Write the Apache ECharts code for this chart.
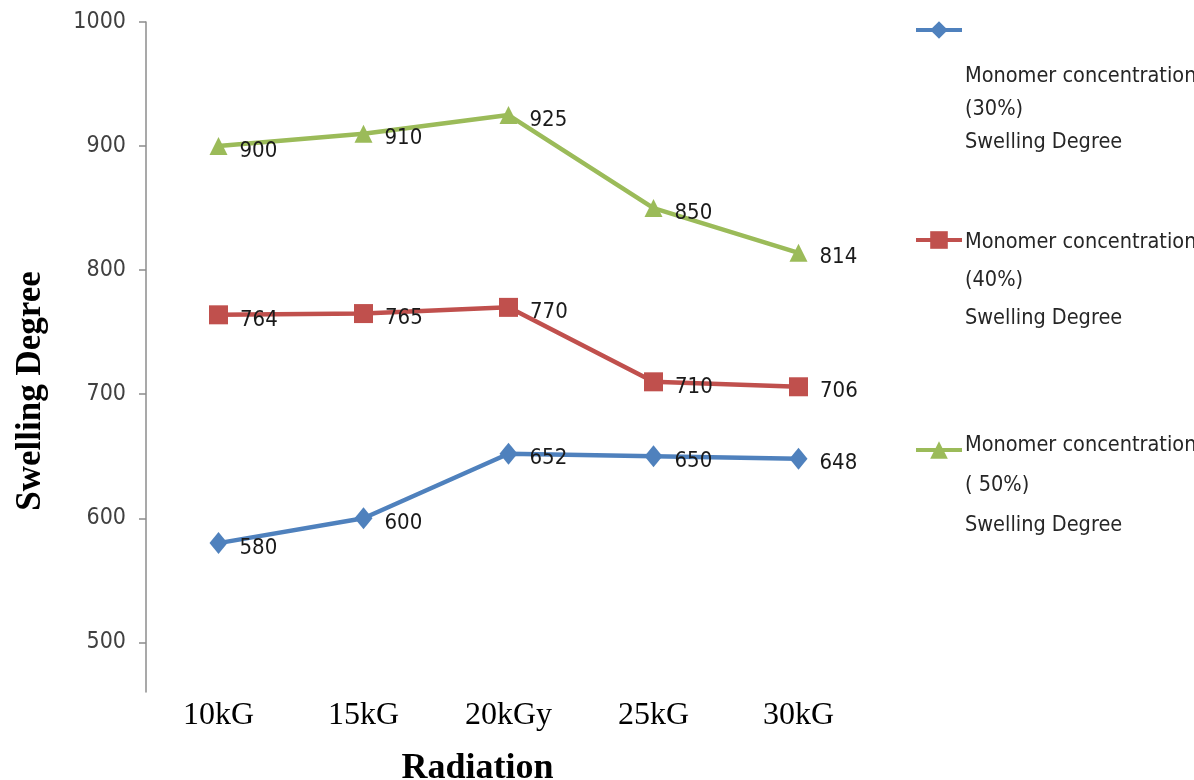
<!DOCTYPE html>
<html>
<head>
<meta charset="utf-8">
<script src="https://cdn.jsdelivr.net/npm/echarts@6/dist/echarts.min.js"></script>
<style>
  html, body { margin: 0; padding: 0; background: #ffffff; }
  #chart { width: 1194px; height: 780px; }
</style>
</head>
<body>
<div id="chart"></div>
<script>
// Radiation dose levels on the x axis
const categories = ['10kG', '15kG', '20kGy', '25kG', '30kG'];

// Swelling degree for each monomer concentration
const swelling30 = [580, 600, 652, 650, 648];
const swelling40 = [764, 765, 770, 710, 706];
const swelling50 = [900, 910, 925, 850, 814];

const seriesNames = [
  'Monomer concentration (30%) Swelling Degree',
  'Monomer concentration (40%) Swelling Degree',
  'Monomer concentration ( 50%) Swelling Degree'
];
const legendLines = [
  ['Monomer concentration', '(30%)', 'Swelling Degree'],
  ['Monomer concentration', '(40%)', 'Swelling Degree'],
  ['Monomer concentration', '( 50%)', 'Swelling Degree']
];

// Value-axis ticks
const yTicks = [500, 600, 700, 800, 900, 1000];

const colors = ['#4F81BD', '#C0504D', '#9BBB59'];
const sans = "'DejaVu Sans Condensed', 'DejaVu Sans', sans-serif";
const serif = "'Liberation Serif', 'Times New Roman', serif";

const chart = echarts.init(document.getElementById('chart'));

function makeSeries(i, data, symbol, size) {
  return {
    name: seriesNames[i],
    type: 'line',
    data: data,
    symbol: symbol,
    symbolSize: size,
    color: colors[i],
    lineStyle: { width: 4.5, color: colors[i] },
    itemStyle: { color: colors[i] },
    z: 3 + i,
    label: {
      show: true,
      position: 'right',
      distance: 12,
      offset: [0, 5],
      fontFamily: sans,
      fontSize: 22,
      color: '#1a1a1a'
    }
  };
}

// Icon-only legend entries
const iconTops = [14, 224, 434];
const iconLegends = seriesNames.map((n, i) => ({
  data: [n],
  left: 909,
  top: iconTops[i],
  itemWidth: 46,
  itemHeight: 22,
  lineStyle: { width: 4 },
  formatter: () => '',
  textStyle: { fontSize: 1 }
}));

// Text-only legend entries, three lines each
const lineHeights = [33, 38, 40];
const textTops = [55, 218, 420];
const textLegends = seriesNames.map((n, i) => ({
  data: [{ name: n, icon: 'none' }],
  left: 955,
  top: textTops[i],
  itemWidth: 0,
  itemHeight: 0,
  formatter: () => legendLines[i].join('\n'),
  textStyle: {
    fontFamily: sans,
    fontSize: 21.5,
    lineHeight: lineHeights[i],
    color: '#262626'
  }
}));

chart.setOption({
  backgroundColor: '#ffffff',
  animation: false,
  grid: { left: 146, right: 323, top: 22, bottom: 88, outerBoundsMode: 'none', containLabel: false },
  legend: iconLegends.concat(textLegends),
  xAxis: {
    type: 'category',
    data: categories,
    boundaryGap: true,
    name: 'Radiation',
    nameLocation: 'middle',
    nameGap: 59,
    nameTextStyle: {
      fontFamily: serif,
      fontWeight: 'bold',
      fontSize: 36,
      color: '#000000',
      padding: [0, 62, 0, 0]
    },
    axisLine: { show: false },
    axisTick: { show: false },
    axisLabel: {
      margin: 8,
      fontFamily: serif,
      fontSize: 32,
      color: '#000000'
    },
    splitLine: { show: false }
  },
  yAxis: {
    type: 'value',
    min: 460,
    max: 1000,
    name: 'Swelling Degree',
    nameLocation: 'middle',
    nameGap: 98,
    nameRotate: 90,
    nameTextStyle: {
      fontFamily: serif,
      fontWeight: 'bold',
      fontSize: 35,
      color: '#000000',
      padding: [0, 68, 0, 0]
    },
    axisLine: { show: true, lineStyle: { color: '#8c8c8c', width: 1.5 } },
    axisTick: {
      show: true,
      length: 7,
      customValues: yTicks,
      lineStyle: { color: '#8c8c8c', width: 1.5 }
    },
    axisLabel: {
      customValues: yTicks,
      margin: 20,
      formatter: v => String(v),
      fontFamily: sans,
      fontSize: 23,
      color: '#404040'
    },
    splitLine: { show: false }
  },
  series: [
    makeSeries(0, swelling30, 'diamond', [18, 22]),
    makeSeries(1, swelling40, 'rect', 19),
    makeSeries(2, swelling50, 'triangle', 18)
  ]
});
</script>
</body>
</html>
